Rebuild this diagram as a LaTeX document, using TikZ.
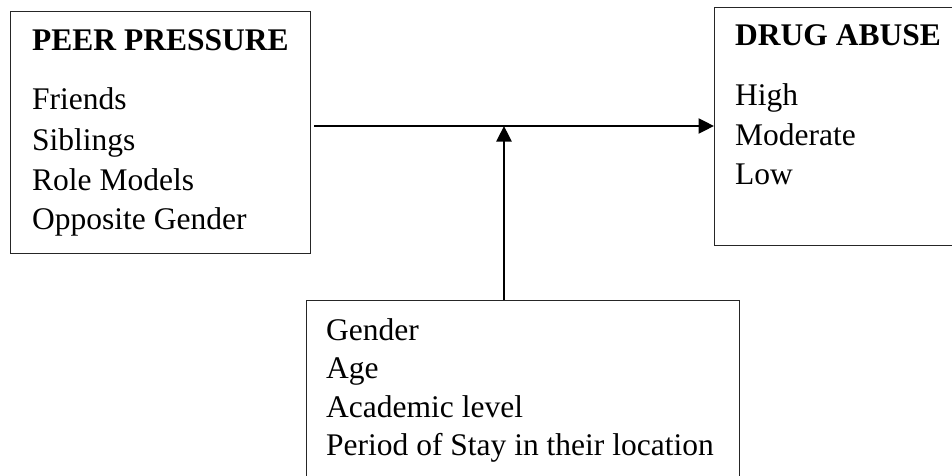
\documentclass[tikz,border=0pt]{standalone}
\usepackage{fontspec}
\setmainfont{Liberation Serif}
\usetikzlibrary{arrows.meta}
\begin{document}
\begin{tikzpicture}[x=1pt,y=-1pt,
  box/.style={draw=black!85, line width=1.3pt, rectangle, inner sep=0pt, anchor=north west},
  ttl/.style={anchor=base west, inner sep=0pt, font=\fontsize{31.5}{38}\selectfont\bfseries},
  itm/.style={anchor=base west, inner sep=0pt, font=\fontsize{31.5}{38}\selectfont},
  conn/.style={line width=2.5pt, -{Triangle[length=15.5pt,width=15pt]}}]
\useasboundingbox (0,0) rectangle (952,476);
\clip (0,0) rectangle (952,476);
% boxes
\node[box, minimum width=300.5pt, minimum height=242pt] (peer) at (9.5,11) {};
\node[box, minimum width=280pt, minimum height=238pt] (drug) at (714,7) {};
\node[box, minimum width=433pt, minimum height=200pt] (mod) at (306,300) {};
% left box texts
\node[ttl] (pt) at (32,51) {PEER PRESSURE};
\node[itm] (p1) at (32,110) {Friends};
\node[itm] (p2) at (32,150) {Siblings};
\node[itm] (p3) at (32,190) {Role Models};
\node[itm] (p4) at (32,229.5) {Opposite Gender};
% right box texts
\node[ttl] (dt) at (735,45.5) {DRUG ABUSE};
\node[itm] (d1) at (735,106) {High};
\node[itm] (d2) at (735,145) {Moderate};
\node[itm] (d3) at (735,184) {Low};
% bottom box texts
\node[itm] (m1) at (326,340) {Gender};
\node[itm] (m2) at (326,378.5) {Age};
\node[itm] (m3) at (326,417) {Academic level};
\node[itm] (m4) at (326,455.5) {Period of Stay in their location};
% connectors
\coordinate (hs) at (314,126);
\coordinate (jn) at (504,126);
\draw[conn] (hs) -- (hs -| drug.west);
\draw[conn] (jn |- mod.north) -- (jn);
\end{tikzpicture}
\end{document}
